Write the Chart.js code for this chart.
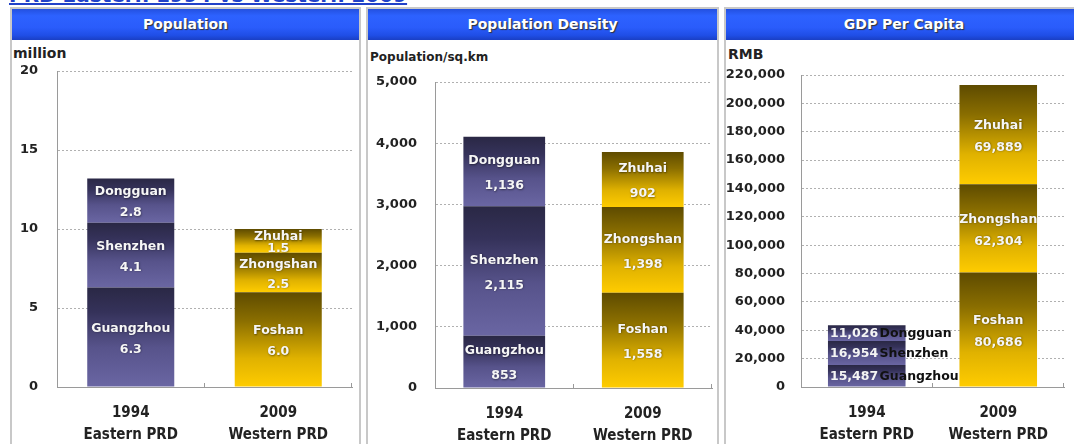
<!DOCTYPE html>
<html><head><meta charset="utf-8">
<script src="https://cdn.jsdelivr.net/npm/chart.js@4.4.0/dist/chart.umd.min.js"></script>
<style>
html,body{margin:0;padding:0;background:#fff;width:1074px;height:444px;overflow:hidden;position:relative;}
.title{position:absolute;left:9px;top:-15px;font:bold 20px 'DejaVu Sans',sans-serif;color:#2242c8;text-decoration:underline;white-space:nowrap;line-height:20px;}
.panel{position:absolute;top:7px;height:460px;border:2px solid #c8c8c8;box-sizing:border-box;}
.hdr{position:absolute;left:0;right:0;top:0;height:31px;background:linear-gradient(to bottom,#2350e0 0%,#2d62ff 22%,#2a5cfb 60%,#1f4ee6 85%,#1a3fc4 100%);color:#fff;font:bold 14px 'DejaVu Sans',sans-serif;text-align:center;line-height:31px;text-shadow:1px 1px 1px #333;}
.unit{position:absolute;font:bold 14px 'DejaVu Sans',sans-serif;color:#222;line-height:16px;white-space:nowrap;}
.cv{position:absolute;}
</style></head>
<body>
<div class="title">PRD Eastern 1994 vs Western 2009</div>
<div class="panel" style="left:10px;width:351px;"><div class="hdr">Population</div></div>
<div class="panel" style="left:366px;width:353px;"><div class="hdr">Population Density</div></div>
<div class="panel" style="left:724px;width:360px;"><div class="hdr">GDP Per Capita</div></div>
<div class="unit" style="left:13px;top:45px;">million</div>
<div class="unit" style="left:370px;top:50px;font-size:12px;line-height:14px;">Population/sq.km</div>
<div class="unit" style="left:728px;top:46px;">RMB</div>
<canvas class="cv" id="c1" width="347" height="403" style="left:12px;top:41px;"></canvas>
<canvas class="cv" id="c2" width="349" height="403" style="left:368px;top:41px;"></canvas>
<canvas class="cv" id="c3" width="348" height="403" style="left:726px;top:41px;"></canvas>
<script>
// ---- data ----
const categories = [['1994','Eastern PRD'],['2009','Western PRD']];
const eastCities = ['Guangzhou','Shenzhen','Dongguan'];
const westCities = ['Foshan','Zhongshan','Zhuhai'];
const popEast = [6.3, 4.1, 2.8];
const popWest = [6.0, 2.5, 1.5];
const densEast = [853, 2115, 1136];
const densWest = [1558, 1398, 902];
const gdpEast = [15487, 16954, 11026];
const gdpWest = [80686, 62304, 69889];
const popAxis = {max:20, step:5};
const densAxis = {max:5000, step:1000};
const gdpAxis = {max:220000, step:20000};

const fmtComma = v => Number(v).toLocaleString('en-US');
const fmtOne = v => Number(v).toFixed(1);
const labelCfg = {};

function gradFor(chart, isEast, y0, y1){
  const g = chart.ctx.createLinearGradient(0, y0, 0, y1);
  if (isEast){
    g.addColorStop(0,'#2a2845'); g.addColorStop(0.25,'#35325a');
    g.addColorStop(0.6,'#57538b'); g.addColorStop(1,'#6a66a3');
  } else {
    g.addColorStop(0,'#5e4b00'); g.addColorStop(0.3,'#8a6e00');
    g.addColorStop(0.7,'#e0b200'); g.addColorStop(1,'#ffcc00');
  }
  return g;
}

const labelPlugin = {
  id:'segLabels',
  afterDatasetsDraw(chart){
    const o = labelCfg[chart.canvas.id];
    const ctx = chart.ctx;
    chart.data.datasets.forEach((ds, di) => {
      const meta = chart.getDatasetMeta(di);
      meta.data.forEach((el, i) => {
        const p = el.getProps(['x','y','base','width'], true);
        const top = Math.min(p.y, p.base), bot = Math.max(p.y, p.base), h = bot - top;
        const name = ds.names[i], val = o.fmt(ds.data[i]);
        ctx.save();
        ctx.font = "bold 12.5px 'DejaVu Sans'";
        ctx.textBaseline = 'middle';
        const cy = (top + bot) / 2;
        if (o.inline && i === 0){
          ctx.textAlign = 'left';
          const x0 = p.x - p.width/2 + 2;
          ctx.fillStyle = '#f4f4f4';
          ctx.fillText(val, x0, cy + 1);
          const w = ctx.measureText(val + ' ').width;
          ctx.fillStyle = '#111';
          ctx.fillText(name, x0 + w - 3, cy + 1);
        } else {
          ctx.beginPath(); ctx.rect(p.x - p.width/2, top, p.width, h); ctx.clip();
          ctx.textAlign = 'center';
          ctx.fillStyle = '#f6f6f6';
          ctx.shadowColor = 'rgba(0,0,0,0.45)'; ctx.shadowBlur = 2; ctx.shadowOffsetX = 0.5; ctx.shadowOffsetY = 0.5;
          const gap = Math.min(o.gap, h * 0.5);
          ctx.fillText(name, p.x, cy - gap/2 + 2);
          ctx.fillText(val, p.x, cy + gap/2 + 2);
        }
        ctx.restore();
      });
    });
  }
};

const tickMarks = {
  id:'tickMarks',
  afterDraw(chart){
    const ctx = chart.ctx, a = chart.chartArea;
    ctx.save(); ctx.strokeStyle = '#9a9a9a'; ctx.lineWidth = 1;
    ctx.beginPath();
    const n = chart.data.labels.length;
    for (let i = 1; i <= n; i++){
      const x = Math.round(a.left + (a.right - a.left) * i / n) - 0.5;
      ctx.moveTo(x, a.bottom); ctx.lineTo(x, a.bottom - 4);
    }
    ctx.stroke(); ctx.restore();
  }
};

function makeChart(id, east, west, axis, fmtVal, geo){
  labelCfg[id] = {gap:geo.gap, fmt:fmtVal, inline:!!geo.inline};
  const datasets = [0,1,2].map(k => ({
    data:[east[k], west[k]],
    names:[eastCities[k], westCities[k]],
    barPercentage:0.59, categoryPercentage:1,
    backgroundColor:(c) => {
      const chart = c.chart, ys = chart.scales.y;
      if (c.type !== 'data' || !ys) return c.dataIndex === 0 ? '#4f4c80' : '#d9aa00';
      const vals = c.dataIndex === 0 ? east : west;
      let base = 0; for (let j = 0; j < c.datasetIndex; j++) base += vals[j];
      const y0 = ys.getPixelForValue(base + vals[c.datasetIndex]), y1 = ys.getPixelForValue(base);
      if (!isFinite(y0) || !isFinite(y1) || y0 === y1) return c.dataIndex === 0 ? '#4f4c80' : '#d9aa00';
      return gradFor(chart, c.dataIndex === 0, y0, y1);
    },
    borderWidth:0
  }));
  return new Chart(document.getElementById(id), {
    type:'bar',
    data:{labels:categories, datasets},
    plugins:[labelPlugin, tickMarks],
    options:{
      responsive:false, animation:false, devicePixelRatio:1,
      layout:{padding:{left:0, right:geo.right, top:geo.top, bottom:0}},
      plugins:{legend:{display:false}, tooltip:{enabled:false}},
      scales:{
        x:{stacked:true, grid:{display:false},
           border:{display:true, color:'#9a9a9a', width:1},
           ticks:{color:'#222', padding:7, maxRotation:0, autoSkip:false,
             font:{family:"'DejaVu Sans Condensed',sans-serif", weight:'bold', size:15, lineHeight:1.4667}},
           afterFit:s => { s.height = geo.xh; }},
        y:{stacked:true, min:0, max:axis.max,
           ticks:{stepSize:axis.step, color:'#222', padding:geo.tp,
             font:{family:"'DejaVu Sans'", weight:'bold', size:13},
             callback:v => fmtComma(v)},
           grid:{color:'#b0b0b0', drawTicks:false, lineWidth:1},
           border:{display:true, color:'#9a9a9a', width:1, dash:[2,2]},
           afterFit:s => { s.width = geo.yw; }}
      }
    }
  });
}

makeChart('c1', popEast, popWest, popAxis, fmtOne, {right:7, top:30, xh:57, yw:45, tp:19, gap:21});
makeChart('c2', densEast, densWest, densAxis, fmtComma, {right:5, top:41, xh:56, yw:67, tp:18, gap:25});
makeChart('c3', gdpEast, gdpWest, gdpAxis, fmtComma, {right:10, top:34, xh:57, yw:75, tp:16, gap:22, inline:true});
</script>
</body></html>
